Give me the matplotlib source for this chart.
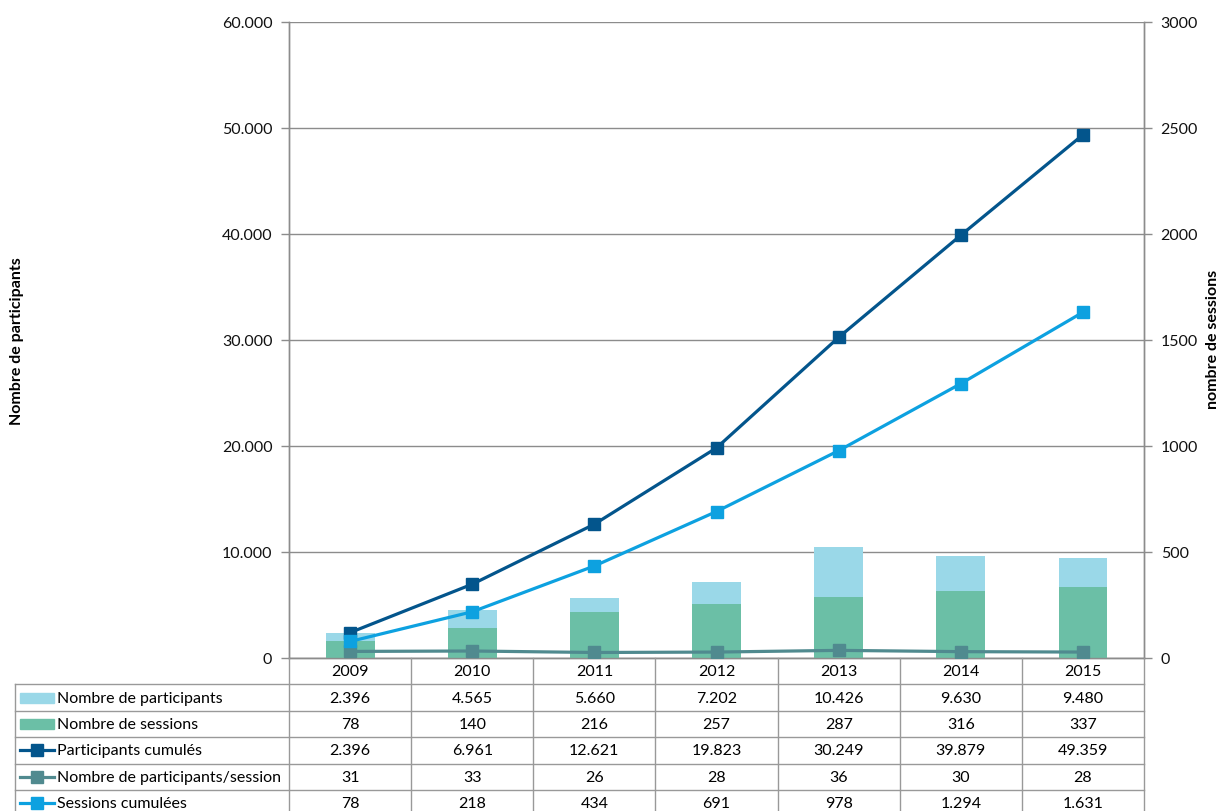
import matplotlib
matplotlib.use("Agg")
import matplotlib.pyplot as plt
from matplotlib.patches import Rectangle
from matplotlib.ticker import FuncFormatter

plt.rcParams["font.family"] = ["Lato", "DejaVu Sans"]

years = ["2009", "2010", "2011", "2012", "2013", "2014", "2015"]
participants = [2396, 4565, 5660, 7202, 10426, 9630, 9480]
sessions = [78, 140, 216, 257, 287, 316, 337]
participants_cum = [2396, 6961, 12621, 19823, 30249, 39879, 49359]
per_session = [31, 33, 26, 28, 36, 30, 28]
sessions_cum = [78, 218, 434, 691, 978, 1294, 1631]

c_part = "#9AD8E8"
c_sess = "#6BBFA6"
c_cum = "#03558C"
c_per = "#508A8F"
c_scum = "#0DA1E0"
grid_c = "#8C8C8C"


def fmt(v):
    return f"{int(v):,}".replace(",", ".")


W, H = 1222, 812
fig = plt.figure(figsize=(W / 100, H / 100), dpi=100)

# plot area in pixels
x0, x1, ytop, ybot = 289, 1144, 23, 659
ax = fig.add_axes([x0 / W, (H - ybot) / H, (x1 - x0) / W, (ybot - ytop) / H])
ax2 = ax.twinx()

x = list(range(len(years)))
bw = 0.4
ax.bar(x, participants, width=bw, color=c_part, zorder=2)
ax.plot(x, participants_cum, color=c_cum, lw=2.3, marker="s", ms=8.5, zorder=3)
ax2.bar(x, sessions, width=bw, color=c_sess, zorder=2)
ax2.plot(x, per_session, color=c_per, lw=2.3, marker="s", ms=8.5, zorder=3)
ax2.plot(x, sessions_cum, color=c_scum, lw=2.3, marker="s", ms=8.5, zorder=4)

ax.set_xlim(-0.5, len(years) - 0.5)
ax.set_ylim(0, 60000)
ax2.set_ylim(0, 3000)
ax.set_yticks(range(0, 60001, 10000))
ax2.set_yticks(range(0, 3001, 500))
ax.yaxis.set_major_formatter(FuncFormatter(lambda v, p: fmt(v)))
ax.set_xticks([])
ax.set_axisbelow(True)
ax.grid(axis="y", color=grid_c, lw=1)

for a in (ax, ax2):
    for s in a.spines.values():
        s.set_color(grid_c)
        s.set_linewidth(1)
    a.spines["top"].set_visible(False)
    a.tick_params(axis="y", length=6, width=1, color=grid_c, labelsize=11.5,
                  labelcolor="#111111", pad=6)
ax.tick_params(axis="x", length=0)

fig.text(17 / W, (H - 341) / H, "Nombre de participants", rotation=90,
         fontweight="bold", fontsize=11.5, ha="center", va="center")
fig.text(1213 / W, (H - 339) / H, "nombre de sessions", rotation=90,
         fontweight="bold", fontsize=11.5, ha="center", va="center")

# data table under the chart (last row runs past the bottom edge)
tl = 15
row_h = 26.4
tbot = ybot + 6 * row_h
ppu = (x1 - x0) / len(years)
tx = fig.add_axes([tl / W, (H - tbot) / H, (x1 - tl) / W, (tbot - ybot) / H])
left = -0.5 - (x0 - tl) / ppu
tx.set_xlim(left, len(years) - 0.5)
tx.set_ylim(6, 0)
tx.axis("off")

lc = "#999999"
for k in range(len(years) + 1):
    tx.plot([k - 0.5, k - 0.5], [0, 6], color=lc, lw=1, clip_on=False)
tx.plot([left, left], [1, 6], color=lc, lw=1, clip_on=False)
for r in range(1, 7):
    tx.plot([left, len(years) - 0.5], [r, r], color=lc, lw=1, clip_on=False)

for i, yr in enumerate(years):
    tx.text(i, 0.5, yr, ha="center", va="center", fontsize=11.5)

rows = [
    ("Nombre de participants", participants, "bar", c_part),
    ("Nombre de sessions", sessions, "bar", c_sess),
    ("Participants cumulés", participants_cum, "line", c_cum),
    ("Nombre de participants/session", per_session, "line", c_per),
    ("Sessions cumulées", sessions_cum, "line", c_scum),
]


def px2x(px):
    return -0.5 + (px - x0) / ppu


kx0, kx1 = px2x(20), px2x(54)
for r, (label, vals, kind, col) in enumerate(rows, start=1):
    yc = r + 0.5
    if kind == "bar":
        tx.add_patch(Rectangle((kx0, yc - 0.19), kx1 - kx0, 0.38, color=col,
                               clip_on=False))
    else:
        tx.plot([kx0, kx1], [yc, yc], color=col, lw=2.3, clip_on=False)
        tx.plot([(kx0 + kx1) / 2], [yc], color=col, marker="s", ms=8.5,
                clip_on=False)
    tx.text(px2x(57), yc, label, ha="left", va="center", fontsize=11.5)
    for i, v in enumerate(vals):
        tx.text(i, yc, fmt(v), ha="center", va="center", fontsize=11.5)

fig.savefig("out.png", dpi=100)
